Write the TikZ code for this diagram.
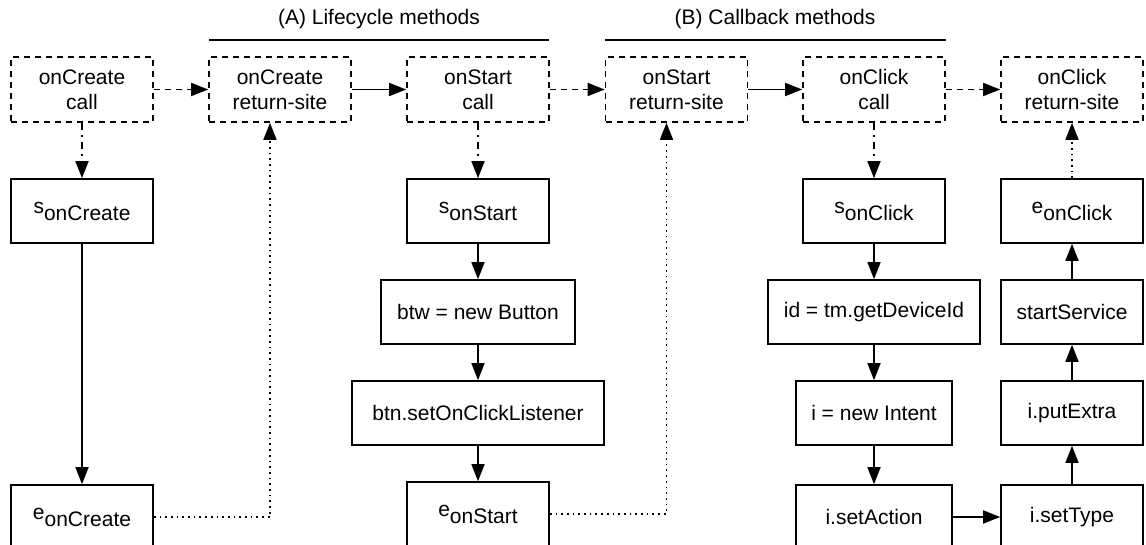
\documentclass[tikz,border=0pt]{standalone}
\usepackage{fontspec}
\setmainfont{Liberation Sans}
\usetikzlibrary{arrows.meta}
\newcommand\subl[2]{#1\raisebox{-7pt}{#2}}
\begin{document}
\begin{tikzpicture}[x=1pt,y=-1pt,
  font=\fontsize{21}{25}\selectfont,
  box/.style={draw,line width=1.6pt,minimum width=142pt,minimum height=64pt,inner sep=0pt,align=center},
  dbox/.style={box,minimum height=65pt,dash pattern=on 6pt off 5pt},
  flow/.style={-{Triangle[length=17pt,width=13pt]},line width=1.6pt},
  dflow/.style={flow,dash pattern=on 6pt off 5pt},
  ddflow/.style={flow,dash pattern=on 7pt off 5pt on 2pt off 5pt},
  dotflow/.style={flow,dash pattern=on 1.7pt off 4pt},
  secline/.style={line width=1.3pt},
]
\useasboundingbox (0,0) rectangle (1146,545);
\clip (0,0) rectangle (1146,545);

% section headers
\node (lblA) at (379,19) {(A) Lifecycle methods};
\node (lblB) at (775,19) {(B) Callback methods};
\draw[secline] (209,40) -- (549,40);
\draw[secline] (605,40) -- (946,40);

% top row
\node[dbox] (cCreate) at (82,89.5) {onCreate\\call};
\node[dbox] (rCreate) at (280,89.5) {onCreate\\return-site};
\node[dbox] (cStart) at (478,89.5) {onStart\\call};
\node[dbox] (rStart) at (676.5,89.5) {onStart\\return-site};
\node[dbox] (cClick) at (874,89.5) {onClick\\call};
\node[dbox] (rClick) at (1072,89.5) {onClick\\return-site};

% column 1
\node[box] (sCreate) at (82,211) {\subl{s}{onCreate}};
\node[box] (eCreate) at (82,517) {\subl{e}{onCreate}};

% column 3
\node[box] (sStart) at (478,211) {\subl{s}{onStart}};
\node[box,minimum width=194pt] (btw) at (478,312) {btw = new Button};
\node[box,minimum width=252pt] (btn) at (478,413) {btn.setOnClickListener};
\node[box] (eStart) at (478,514) {\subl{e}{onStart}};

% column 5
\node[box] (sClick) at (874,211) {\subl{s}{onClick}};
\node[box,minimum width=212pt] (devid) at (874,312) {id = tm.getDeviceId};
\node[box,minimum width=156pt] (intent) at (874,413) {i = new Intent};
\node[box,minimum width=156pt] (setAction) at (874,517) {i.setAction};

% column 6
\node[box] (eClick) at (1072,211) {\subl{e}{onClick}};
\node[box] (startSvc) at (1072,312) {startService};
\node[box] (putExtra) at (1072,413) {i.putExtra};
\node[box] (setType) at (1072,517) {i.setType};

% top row connectors
\draw[dflow] (cCreate) -- (rCreate);
\draw[flow] (rCreate) -- (cStart);
\draw[dflow] (cStart) -- (rStart);
\draw[flow] (rStart) -- (cClick);
\draw[dflow] (cClick) -- (rClick);

% call -> start
\draw[ddflow] (cCreate) -- (sCreate);
\draw[ddflow] (cStart) -- (sStart);
\draw[ddflow] (cClick) -- (sClick);

% intra-procedural flows
\draw[flow] (sCreate) -- (eCreate);
\draw[flow] (sStart) -- (btw);
\draw[flow] (btw) -- (btn);
\draw[flow] (btn) -- (eStart);
\draw[flow] (sClick) -- (devid);
\draw[flow] (devid) -- (intent);
\draw[flow] (intent) -- (setAction);
\draw[flow] (setAction) -- (setType);
\draw[flow] (setType) -- (putExtra);
\draw[flow] (putExtra) -- (startSvc);
\draw[flow] (startSvc) -- (eClick);

% returns
\draw[dotflow] (eCreate.east) -| ([xshift=-10pt]rCreate.south);
\draw[dotflow] (eStart.east) -| ([xshift=-10pt]rStart.south);
\draw[dotflow] (eClick) -- (rClick);
\end{tikzpicture}
\end{document}
